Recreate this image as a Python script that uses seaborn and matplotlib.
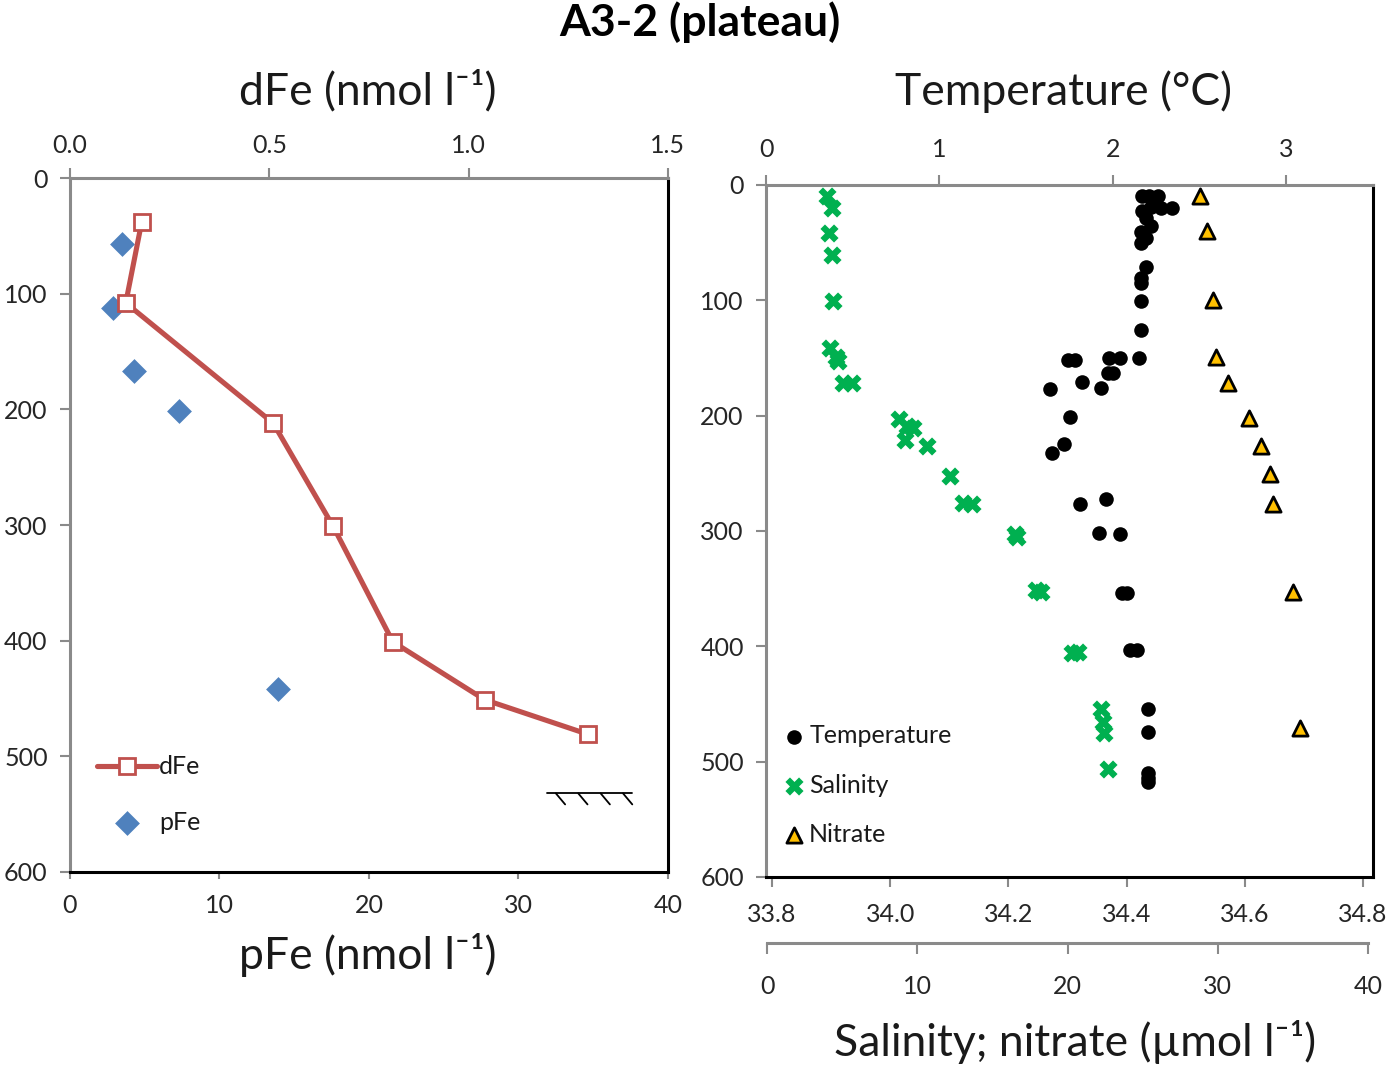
import matplotlib
matplotlib.use('Agg')
import matplotlib.pyplot as plt
import matplotlib.patheffects as pe
import seaborn as sns

# ---- left panel: iron ----
dfe_depth = [38, 108, 212, 301, 401, 451, 481]
dfe = [0.18, 0.14, 0.51, 0.66, 0.81, 1.04, 1.30]
pfe_depth = [57, 112, 167, 201, 442]
pfe = [3.5, 2.9, 4.3, 7.3, 13.9]
seafloor_depth = 532
seafloor_pfe = [31.9, 37.6]

# ---- right panel: CTD + nitrate ----
temp_depth = [10, 10, 10, 19, 20, 20, 23, 29, 36, 41, 46, 50, 71, 81, 85, 101, 126,
              150, 150, 150, 152, 152, 163, 163, 171, 176, 177, 201, 225, 232,
              272, 277, 302, 303, 354, 354, 403, 403, 454, 474, 510, 514, 518]
temp = [2.17, 2.21, 2.26, 2.22, 2.28, 2.34, 2.17, 2.19, 2.22, 2.16, 2.19, 2.16, 2.19, 2.16, 2.16, 2.16, 2.16,
        2.15, 1.98, 2.04, 1.78, 1.74, 1.97, 2.00, 1.82, 1.93, 1.64, 1.75, 1.72, 1.65,
        1.96, 1.81, 1.92, 2.04, 2.05, 2.08, 2.10, 2.14, 2.20, 2.20, 2.20, 2.20, 2.20]
sal_depth = [10, 20, 42, 61, 101, 141, 149, 153, 172, 172, 203, 209, 211, 221, 226, 252,
             276, 277, 303, 305, 351, 353, 406, 405, 454, 466, 475, 506]
sal = [33.893, 33.901, 33.896, 33.901, 33.903, 33.898, 33.908, 33.912, 33.920, 33.935,
       34.015, 34.028, 34.039, 34.025, 34.062, 34.101, 34.123, 34.138, 34.211, 34.215,
       34.247, 34.255, 34.308, 34.318, 34.357, 34.360, 34.362, 34.369]
no3_depth = [10, 40, 100, 149, 172, 202, 226, 251, 277, 353, 471]
no3 = [28.8, 29.3, 29.7, 29.9, 30.7, 32.1, 32.9, 33.5, 33.7, 35.0, 35.5]

depth_ticks = [0, 100, 200, 300, 400, 500, 600]
dfe_ticks = [0.0, 0.5, 1.0, 1.5]
pfe_ticks = [0, 10, 20, 30, 40]
temp_ticks = [0, 1, 2, 3]
sal_ticks = [33.8, 34.0, 34.2, 34.4, 34.6, 34.8]
no3_ticks = [0, 10, 20, 30, 40]

sns.set_theme(style='white')
plt.rcParams['font.family'] = ['Lato', 'DejaVu Sans']
plt.rcParams['text.color'] = '#1a1a1a'

GREY = '#8a8a8a'
TXT = '#262626'
TICKFS = 18
LEGFS = 18
LABFS = 32

fig = plt.figure(figsize=(13.88, 10.66), dpi=100)


def style_base(ax):
    for s in ax.spines.values():
        s.set_linewidth(2.2)
    ax.spines['left'].set_color(GREY)
    ax.spines['top'].set_color(GREY)
    ax.spines['right'].set_color('black')
    ax.spines['bottom'].set_color('black')
    ax.set_ylim(600, 0)
    ax.set_yticks(depth_ticks)
    ax.set_yticklabels([str(d) for d in depth_ticks])
    ax.tick_params(axis='y', left=True, direction='out', length=7, width=1.5,
                   color=GREY, labelsize=TICKFS, labelcolor=TXT, pad=9)
    ax.set_xlabel('')
    ax.set_ylabel('')


def style_twin(ax):
    for s in ax.spines.values():
        s.set_visible(False)
    ax.set_xlabel('')
    ax.set_ylabel('')


# ================= left panel =================
ax1 = fig.add_axes([0.0504, 0.1820, 0.4308, 0.6510])
sns.scatterplot(x=pfe, y=pfe_depth, ax=ax1, marker='D', color='#4f81bd',
                s=160, edgecolor='#4f81bd', linewidth=0, label='pFe', zorder=3)
ax1.plot(seafloor_pfe, [seafloor_depth] * 2, color='black', lw=1.3,
         path_effects=[pe.withTickedStroke(angle=-50, spacing=13, length=0.8)])
style_base(ax1)
ax1.set_xlim(0, 40)
ax1.set_xticks(pfe_ticks)
ax1.set_xticklabels([str(t) for t in pfe_ticks])
ax1.tick_params(axis='x', bottom=True, direction='out', length=5, width=1.5,
                color=GREY, labelsize=TICKFS, labelcolor=TXT, pad=11)

ax1t = ax1.twiny()
sns.lineplot(x=dfe, y=dfe_depth, ax=ax1t, sort=False, estimator=None,
             color='#c0504d', lw=3.7, marker='s', markersize=11,
             markerfacecolor='white', markeredgecolor='#c0504d',
             markeredgewidth=2, label='dFe', zorder=4)
style_twin(ax1t)
ax1t.set_ylim(600, 0)
ax1t.set_xlim(0, 1.5)
ax1t.set_xticks(dfe_ticks)
ax1t.set_xticklabels([f'{t:.1f}' for t in dfe_ticks])
ax1t.tick_params(axis='x', top=True, direction='out', length=7, width=1.5,
                 color=GREY, labelsize=TICKFS, labelcolor=TXT, pad=8)

h1, l1 = ax1t.get_legend_handles_labels()
h2, l2 = ax1.get_legend_handles_labels()
ax1.get_legend().remove()
ax1t.legend(h1 + h2, l1 + l2, loc='lower left', bbox_to_anchor=(0.045, 0.055),
            frameon=False, fontsize=LEGFS, handlelength=2.4, handletextpad=0.1,
            labelspacing=1.3, borderpad=0, borderaxespad=0)

# ================= right panel =================
ax2 = fig.add_axes([0.5519, 0.1773, 0.4373, 0.6492])
sns.scatterplot(x=sal, y=sal_depth, ax=ax2, marker='X', color='#00b050',
                s=170, linewidth=0, label='Salinity', zorder=3)
style_base(ax2)
ax2.set_xlim(33.7898, 34.8169)
ax2.set_xticks(sal_ticks)
ax2.set_xticklabels([f'{t:.1f}' for t in sal_ticks])
ax2.tick_params(axis='x', bottom=True, direction='out', length=7, width=1.5,
                color=GREY, labelsize=TICKFS, labelcolor=TXT, pad=12)

ax2t = ax2.twiny()
sns.scatterplot(x=temp, y=temp_depth, ax=ax2t, marker='o', color='black',
                s=110, linewidth=0, label='Temperature', zorder=3)
style_twin(ax2t)
ax2t.set_ylim(600, 0)
ax2t.set_xlim(0, 3.5)
ax2t.set_xticks(temp_ticks)
ax2t.set_xticklabels([str(t) for t in temp_ticks])
ax2t.tick_params(axis='x', top=True, direction='out', length=7, width=1.5,
                 color=GREY, labelsize=TICKFS, labelcolor=TXT, pad=10)

ax2n = ax2.twiny()
sns.scatterplot(x=no3, y=no3_depth, ax=ax2n, marker='^', color='#ffc000',
                s=120, edgecolor='black', linewidth=2, label='Nitrate', zorder=3)
style_twin(ax2n)
ax2n.set_ylim(600, 0)
ax2n.set_xlim(-0.07, 40.33)
ax2n.xaxis.set_ticks_position('bottom')
ax2n.spines['bottom'].set_visible(True)
ax2n.spines['bottom'].set_position(('outward', 47.5))
ax2n.spines['bottom'].set_color(GREY)
ax2n.spines['bottom'].set_linewidth(2.2)
ax2n.spines['bottom'].set_bounds(0, 40)
ax2n.set_xticks(no3_ticks)
ax2n.set_xticklabels([str(t) for t in no3_ticks])
ax2n.tick_params(axis='x', bottom=True, top=False, direction='out', length=8,
                 width=1.5, color=GREY, labelsize=TICKFS, labelcolor=TXT, pad=15)

hs, ls = [], []
for a in (ax2t, ax2, ax2n):
    h, l = a.get_legend_handles_labels()
    hs += h
    ls += l
    if a.get_legend() is not None:
        a.get_legend().remove()
ax2n.legend(hs, ls, loc='lower left', bbox_to_anchor=(0.03, 0.045),
            frameon=False, fontsize=LEGFS, handlelength=0.8, handletextpad=0.2,
            labelspacing=1.05, borderpad=0, borderaxespad=0)

# ---- titles and axis names ----
fig.text(0.504, 0.979, 'A3-2 (plateau)', ha='center', va='center',
         fontsize=32, fontweight='bold', color='black')
fig.text(0.265, 0.914, 'dFe (nmol l\u207b\u00b9)', ha='center', va='center', fontsize=LABFS)
fig.text(0.265, 0.104, 'pFe (nmol l\u207b\u00b9)', ha='center', va='center', fontsize=LABFS)
fig.text(0.766, 0.914, 'Temperature (\u00b0C)', ha='center', va='center', fontsize=LABFS)
fig.text(0.7745, 0.0225, 'Salinity; nitrate (\u00b5mol l\u207b\u00b9)', ha='center',
         va='center', fontsize=LABFS)

fig.savefig('out.png', dpi=100)
